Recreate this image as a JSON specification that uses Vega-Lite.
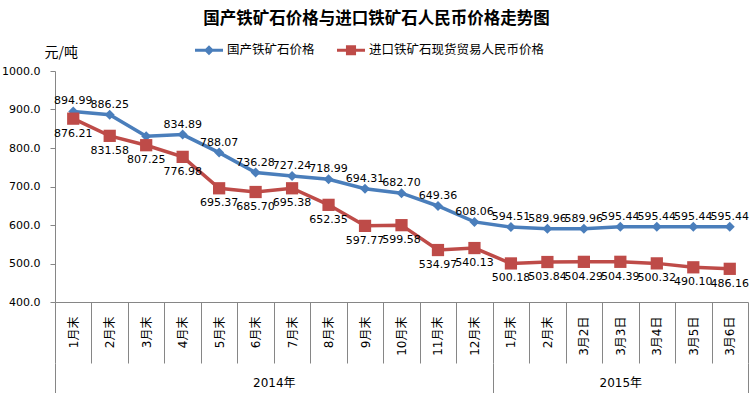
{
  "$schema": "https://vega.github.io/schema/vega-lite/v6.json",
  "width": 693,
  "height": 231,
  "autosize": {"type": "none"},
  "padding": {"left": 55, "top": 71, "right": 8, "bottom": 91},
  "background": "white",
  "config": {
    "font": "DejaVu Sans, Noto Sans CJK SC",
    "view": {"stroke": null}
  },
  "title": {
    "text": "国产铁矿石价格与进口铁矿石人民币价格走势图",
    "font": "Noto Sans CJK SC",
    "fontSize": 16.5,
    "fontWeight": "bold",
    "color": "#000000",
    "anchor": "middle",
    "frame": "group",
    "dx": -25,
    "dy": -5
  },
  "data": {
    "values": [
      {"date": "2014|1月末", "国产铁矿石价格": 894.99, "进口铁矿石现货贸易人民币价格": 876.21},
      {"date": "2014|2月末", "国产铁矿石价格": 886.25, "进口铁矿石现货贸易人民币价格": 831.58},
      {"date": "2014|3月末", "国产铁矿石价格": 830.5, "进口铁矿石现货贸易人民币价格": 807.25},
      {"date": "2014|4月末", "国产铁矿石价格": 834.89, "进口铁矿石现货贸易人民币价格": 776.98},
      {"date": "2014|5月末", "国产铁矿石价格": 788.07, "进口铁矿石现货贸易人民币价格": 695.37},
      {"date": "2014|6月末", "国产铁矿石价格": 736.28, "进口铁矿石现货贸易人民币价格": 685.70},
      {"date": "2014|7月末", "国产铁矿石价格": 727.24, "进口铁矿石现货贸易人民币价格": 695.38},
      {"date": "2014|8月末", "国产铁矿石价格": 718.99, "进口铁矿石现货贸易人民币价格": 652.35},
      {"date": "2014|9月末", "国产铁矿石价格": 694.31, "进口铁矿石现货贸易人民币价格": 597.77},
      {"date": "2014|10月末", "国产铁矿石价格": 682.70, "进口铁矿石现货贸易人民币价格": 599.58},
      {"date": "2014|11月末", "国产铁矿石价格": 649.36, "进口铁矿石现货贸易人民币价格": 534.97},
      {"date": "2014|12月末", "国产铁矿石价格": 608.06, "进口铁矿石现货贸易人民币价格": 540.13},
      {"date": "2015|1月末", "国产铁矿石价格": 594.51, "进口铁矿石现货贸易人民币价格": 500.18},
      {"date": "2015|2月末", "国产铁矿石价格": 589.96, "进口铁矿石现货贸易人民币价格": 503.84},
      {"date": "2015|3月2日", "国产铁矿石价格": 589.96, "进口铁矿石现货贸易人民币价格": 504.29},
      {"date": "2015|3月3日", "国产铁矿石价格": 595.44, "进口铁矿石现货贸易人民币价格": 504.39},
      {"date": "2015|3月4日", "国产铁矿石价格": 595.44, "进口铁矿石现货贸易人民币价格": 500.32},
      {"date": "2015|3月5日", "国产铁矿石价格": 595.44, "进口铁矿石现货贸易人民币价格": 490.10},
      {"date": "2015|3月6日", "国产铁矿石价格": 595.44, "进口铁矿石现货贸易人民币价格": 486.16}
    ]
  },
  "resolve": {"scale": {"x": "independent"}, "axis": {"x": "independent"}},
  "layer": [
    {
      "transform": [{"fold": ["国产铁矿石价格", "进口铁矿石现货贸易人民币价格"], "as": ["series", "price"]}],
      "encoding": {
        "x": {
          "field": "date", "type": "nominal", "sort": null, "bandPosition": 0.5,
          "scale": {"type": "band", "paddingInner": 0, "paddingOuter": 0},
          "axis": {
            "title": null,
            "labelExpr": "split(datum.value, '|')[1]",
            "labelAngle": -90,
            "labelFontSize": 12,
            "labelColor": "#000000",
            "labelPadding": -47,
            "labelOverlap": false,
            "tickBand": "extent",
            "tickSize": 61,
            "tickColor": "#868686",
            "domainColor": "#868686",
            "grid": false
          }
        },
        "y": {
          "field": "price", "type": "quantitative",
          "scale": {"domain": [400, 1000], "nice": false, "zero": false},
          "axis": {
            "values": [400, 500, 600, 700, 800, 900, 1000],
            "format": ".1f",
            "grid": false,
            "tickSize": 5,
            "tickColor": "#868686",
            "domainColor": "#868686",
            "labelFontSize": 11,
            "labelColor": "#000000",
            "labelPadding": 10,
            "title": "元/吨",
            "titleFont": "Noto Sans CJK SC",
            "titleFontSize": 14,
            "titleFontWeight": "normal",
            "titleColor": "#000000",
            "titleAngle": 0,
            "titleAlign": "left",
            "titleBaseline": "alphabetic",
            "titleX": -11,
            "titleY": -15
          }
        },
        "color": {
          "field": "series", "type": "nominal",
          "sort": ["国产铁矿石价格", "进口铁矿石现货贸易人民币价格"],
          "scale": {"domain": ["国产铁矿石价格", "进口铁矿石现货贸易人民币价格"], "range": ["#4A7EBB", "#BE4B48"]},
          "legend": {
            "title": null,
            "orient": "none",
            "legendX": 140,
            "legendY": -35,
            "direction": "horizontal",
            "labelFont": "Noto Sans CJK SC",
            "labelFontSize": 12.5,
            "labelColor": "#000000",
            "labelLimit": 0,
            "labelOffset": 4,
            "columnPadding": 22,
            "symbolSize": 784,
            "symbolStrokeWidth": 0,
            "encode": {
              "symbols": {
                "update": {
                  "shape": {"signal": "datum.value === '国产铁矿石价格' ? 'M-1,-0.1H1V0.1H-1Z M0,-0.36L0.36,0L0,0.36L-0.36,0Z' : 'M-1,-0.1H1V0.1H-1Z M-0.36,-0.36H0.36V0.36H-0.36Z'"},
                  "size": {"value": 784},
                  "strokeWidth": {"value": 0},
                  "fill": {"signal": "datum.value === '国产铁矿石价格' ? '#4A7EBB' : '#BE4B48'"}
                }
              }
            }
          }
        }
      },
      "layer": [
        {"mark": {"type": "line", "strokeWidth": 3.5}},
        {
          "transform": [{"filter": "datum.series == '国产铁矿石价格'"}],
          "mark": {"type": "point", "filled": true, "opacity": 1, "shape": "diamond", "size": 100}
        },
        {
          "transform": [{"filter": "datum.series == '进口铁矿石现货贸易人民币价格'"}],
          "mark": {"type": "point", "filled": true, "opacity": 1, "shape": "square", "size": 150}
        },
        {
          "transform": [
            {"filter": "datum.series == '国产铁矿石价格' && datum.date != '2014|3月末'"}
          ],
          "mark": {"type": "text", "dy": -10, "fontSize": 11, "color": "#000000"},
          "encoding": {"text": {"field": "price", "type": "quantitative", "format": ".2f"}, "color": {"value": "#000000"}}
        },
        {
          "transform": [
            {"filter": "datum.series == '进口铁矿石现货贸易人民币价格'"}
          ],
          "mark": {"type": "text", "dy": 15, "fontSize": 11, "color": "#000000"},
          "encoding": {"text": {"field": "price", "type": "quantitative", "format": ".2f"}, "color": {"value": "#000000"}}
        }
      ]
    },
    {
      "mark": {"type": "rule", "strokeOpacity": 0},
      "encoding": {
        "x": {
          "datum": 0, "type": "quantitative",
          "scale": {"domain": [0, 19], "nice": false, "zero": false},
          "axis": {
            "orient": "bottom",
            "offset": 61,
            "values": [0, 6, 12, 15.5, 19],
            "labelExpr": "datum.value == 6 ? '2014年' : datum.value == 15.5 ? '2015年' : ''",
            "domain": false,
            "grid": false,
            "tickSize": 30,
            "tickColor": "#868686",
            "tickOpacity": {"condition": {"test": "datum.value == 6 || datum.value == 15.5", "value": 0}, "value": 1},
            "labelPadding": -16,
            "labelFontSize": 12,
            "labelColor": "#000000",
            "labelAngle": 0,
            "labelFlush": false,
            "labelOverlap": false,
            "title": null
          }
        }
      }
    }
  ]
}
